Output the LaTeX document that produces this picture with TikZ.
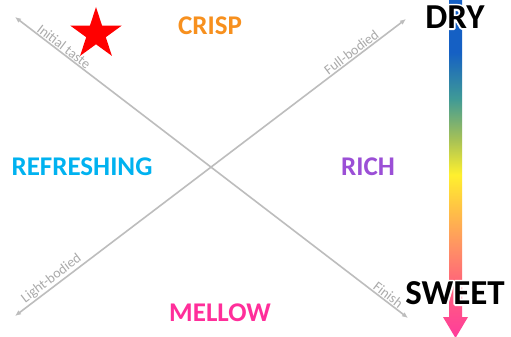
\documentclass[tikz,border=0pt]{standalone}
\usepackage{fontspec}
\setmainfont{Carlito}
\usetikzlibrary{shapes.geometric, arrows.meta, calc}

\definecolor{crispcol}{HTML}{F7901E}
\definecolor{freshcol}{HTML}{00B2F0}
\definecolor{richcol}{HTML}{9B4FD6}
\definecolor{mellowcol}{HTML}{FF2E9A}
\definecolor{axiscol}{HTML}{BDBDBD}
\definecolor{barblue}{HTML}{1560C4}
\definecolor{barteal}{HTML}{3F9A96}
\definecolor{bargreen}{HTML}{A6C156}
\definecolor{baryellow}{HTML}{FFF02E}
\definecolor{barorange}{HTML}{FFC046}
\definecolor{barsalmon}{HTML}{FF8E66}
\definecolor{barpink}{HTML}{FF6878}
\definecolor{barmagenta}{HTML}{FF3B9C}

\pgfdeclareverticalshading{sweetness}{100bp}{%
  color(0bp)=(barmagenta); color(25bp)=(barmagenta); color(33.5bp)=(barpink);
  color(38bp)=(barsalmon); color(43.8bp)=(barorange); color(49bp)=(baryellow);
  color(54.2bp)=(bargreen); color(60.2bp)=(barteal); color(67bp)=(barblue);
  color(75bp)=(barblue); color(100bp)=(barblue)}

% text stroked with a white outline, painted under the black text
\newcommand\haloed[1]{\special{pdf:code q 2 Tr 3.6 w 1 j 1 1 1 RG 1 1 1 rg}#1\special{pdf:code Q}}

\begin{document}
\begin{tikzpicture}[x=1pt, y=-1pt,
    axis/.style={draw=axiscol, line width=1.6pt, {Latex[length=6pt,width=5pt]}-{Latex[length=6pt,width=5pt]}},
    axislabel/.style={text=axiscol!90!black, font=\fontsize{14}{14}\selectfont, sloped, above, inner sep=0.8pt},
    taste/.style={font=\fontsize{27}{27}\selectfont\bfseries, inner sep=0pt},
    level/.style={font=\fontsize{35}{35}\selectfont\bfseries, inner sep=0pt}]
  \useasboundingbox[fill=white] (0,0) rectangle (511,337);

  % the two axes
  \coordinate (tl) at (15,17);
  \coordinate (br) at (408,318);
  \coordinate (bl) at (15,316);
  \coordinate (tr) at (406,19);
  \draw[axis] (tl) -- node[axislabel, pos=0.115] {Initial taste} node[axislabel, pos=0.94] {Finish} (br);
  \draw[axis] (bl) -- node[axislabel, pos=0.105] {Light-bodied} node[axislabel, pos=0.87] {Full-bodied} (tr);

  % quadrant names
  \node[taste, text=crispcol] (crisp) at (210,26) {CRISP};
  \node[taste, text=freshcol] (fresh) at (82,167) {REFRESHING};
  \node[taste, text=richcol] (rich) at (368,167) {RICH};
  \node[taste, text=mellowcol] (mellow) at (220,313) {MELLOW};

  \node[star, star points=5, star point ratio=2.618, fill=red, minimum size=54pt, inner sep=0pt] (mark) at (96,34) {};

  % dry / sweet scale
  \path[shading=sweetness] (449,-2) -- (462,-2) -- (462,317) -- (468,317) -- (455.5,338)
    -- (443,317) -- (449,317) -- cycle;
  \node[level] (dry) at (455,17) {\haloed{DRY}};
  \node[level] at (dry) {DRY};
  \node[level] (sweet) at (455,293) {\haloed{SWEET}};
  \node[level] at (sweet) {SWEET};
\end{tikzpicture}
\end{document}
